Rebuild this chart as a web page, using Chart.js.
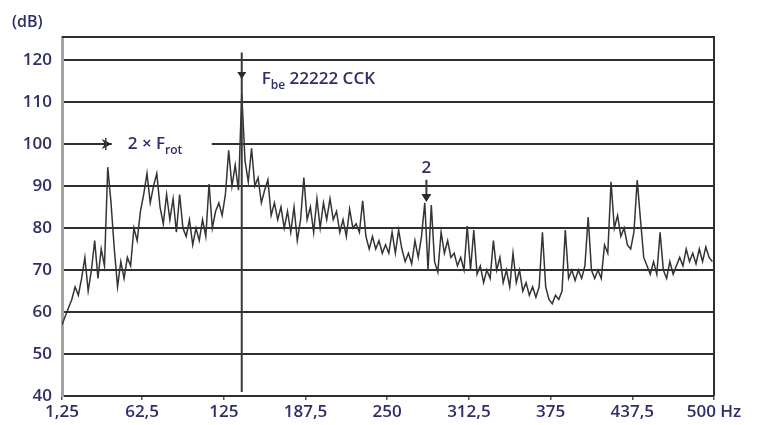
<!DOCTYPE html>
<html>
<head>
<meta charset="utf-8">
<script src="https://cdn.jsdelivr.net/npm/chart.js@4.4.0/dist/chart.umd.min.js"></script>
<style>
  html, body { margin: 0; padding: 0; background: #fff; }
  #wrap { width: 759px; height: 425px; }
</style>
</head>
<body>
<div id="wrap"><canvas id="spectrum"></canvas></div>
<script>
// spectrum lines, 2.5 Hz apart starting at 1.25 Hz
const firstBin = 1.25;
const binStep = 2.5;
const levels = [
  57, 59, 61, 63, 66, 64, 68, 73, 65, 70,
  77, 68, 75, 71, 94.5, 86, 75, 66, 72, 68,
  73, 71, 80, 77, 84, 88, 93, 86, 90, 93,
  85, 81, 88, 82, 87, 79, 88, 80, 78, 82,
  76, 80, 77, 82, 78, 90.5, 80, 84, 86, 83,
  88, 98.5, 90, 95, 89, 112, 96, 91, 99, 90,
  92, 86, 89, 91.5, 83, 86, 82, 85, 80, 84,
  79, 85, 77, 82, 92, 82, 85, 79, 87, 80,
  86, 82, 87, 82, 84, 79, 82, 78, 84.5, 80,
  81, 79, 86.5, 78, 75, 78, 75, 77, 74, 76,
  74, 79, 74, 79.5, 75, 72, 74, 71.5, 77, 73,
  78, 86, 70, 85.5, 72, 69.5, 79, 74, 77, 73,
  74, 71, 73, 70, 80.5, 70, 79.5, 69, 71, 67,
  70, 68, 77, 70, 73, 67, 70, 66, 74, 67,
  70, 65, 67, 64, 66, 63.5, 66, 79, 66, 63,
  62, 64, 63, 65, 79.5, 68, 70, 67.5, 70, 68,
  71, 82.6, 70, 68, 70, 68, 76, 74, 91, 80,
  83, 78, 80, 76, 75, 79, 91.4, 82, 73, 71,
  69, 72, 69, 79, 70, 68, 72, 69, 71, 73,
  71, 75, 72, 74, 71.5, 75, 72, 75.5, 73, 72
];

const xTicks = [1.25, 62.5, 125, 187.5, 250, 312.5, 375, 437.5, 500];
const yTicks = [40, 50, 60, 70, 80, 90, 100, 110, 120];

// marked components
const fbeFreq = 138.75;   // F_be peak
const frotFreq = 36.25;   // 2 x F_rot peak
const harmFreq = 280;     // second harmonic of F_be

const ink = '#2f2f2f';
const textColor = '#2e2e68';
const fontFamily = '"Open Sans", "DejaVu Sans", sans-serif';

const points = levels.map((v, i) => ({ x: firstBin + i * binStep, y: v }));

function arrowDown(ctx, x, tipY, w, h) {
  ctx.beginPath();
  ctx.moveTo(x - w / 2, tipY - h);
  ctx.lineTo(x + w / 2, tipY - h);
  ctx.lineTo(x, tipY);
  ctx.closePath();
  ctx.fill();
}

// text with a subscript part: [main, sub, rest]
function subText(ctx, x, base, main, sub, rest, size) {
  ctx.font = '600 ' + size + 'px ' + fontFamily;
  ctx.fillText(main, x, base);
  x += ctx.measureText(main).width;
  ctx.font = '600 ' + Math.round(size * 0.7) + 'px ' + fontFamily;
  ctx.fillText(sub, x, base + 5);
  x += ctx.measureText(sub).width;
  if (rest) {
    ctx.font = '600 ' + size + 'px ' + fontFamily;
    ctx.fillText(rest, x, base);
  }
}

const markup = {
  id: 'markup',
  beforeDraw(chart) {
    const ctx = chart.ctx;
    ctx.save();
    ctx.fillStyle = '#fff';
    ctx.fillRect(0, 0, chart.width, chart.height);
    ctx.restore();
  },
  beforeDatasetsDraw(chart) {
    // break in the 100 dB line where the 2 x F_rot label sits
    const { ctx, scales: { x, y } } = chart;
    const yy = y.getPixelForValue(100);
    ctx.save();
    ctx.fillStyle = '#fff';
    ctx.fillRect(x.getPixelForValue(frotFreq) + 4, yy - 3, 100, 6);
    ctx.restore();
  },
  afterDraw(chart) {
    const { ctx, chartArea: a, scales: { x, y } } = chart;
    ctx.save();

    // frame top and right
    ctx.strokeStyle = ink;
    ctx.lineWidth = 2;
    ctx.beginPath();
    ctx.moveTo(a.left, a.top);
    ctx.lineTo(a.right, a.top);
    ctx.lineTo(a.right, a.bottom);
    ctx.stroke();

    // F_be marker line
    const xf = x.getPixelForValue(fbeFreq);
    ctx.lineWidth = 2;
    ctx.strokeStyle = '#3a3a3a';
    ctx.beginPath();
    ctx.moveTo(xf, y.getPixelForValue(121.8));
    ctx.lineTo(xf, a.bottom - 4);
    ctx.stroke();
    ctx.fillStyle = '#2a2a2a';
    arrowDown(ctx, xf, y.getPixelForValue(115.5), 9, 7);

    // arrow onto the second harmonic
    const xh = x.getPixelForValue(harmFreq);
    ctx.beginPath();
    ctx.moveTo(xh, y.getPixelForValue(91.5));
    ctx.lineTo(xh, y.getPixelForValue(87));
    ctx.stroke();
    arrowDown(ctx, xh, y.getPixelForValue(86.2), 10, 8);

    // arrow head for 2 x F_rot on the 100 dB line
    const xr = x.getPixelForValue(frotFreq);
    const yr = y.getPixelForValue(100);
    ctx.beginPath();
    ctx.moveTo(xr + 4, yr);
    ctx.lineTo(xr - 6, yr - 5);
    ctx.lineTo(xr - 3, yr);
    ctx.lineTo(xr - 6, yr + 5);
    ctx.closePath();
    ctx.fill();
    ctx.lineWidth = 1.5;
    ctx.beginPath();
    ctx.moveTo(xr - 2, yr - 6);
    ctx.lineTo(xr - 2, yr + 6);
    ctx.stroke();

    // labels
    ctx.fillStyle = textColor;
    ctx.textBaseline = 'alphabetic';
    ctx.textAlign = 'left';
    ctx.font = '600 16px ' + fontFamily;
    ctx.fillText('(dB)', 12, 27);

    subText(ctx, xf + 20, 84, 'F', 'be', ' 22222 CCK', 17);
    subText(ctx, xr + 20, 149, '2 \u00d7 F', 'rot', '', 17);

    ctx.textAlign = 'center';
    ctx.font = '600 17px ' + fontFamily;
    ctx.fillText('2', xh, 173);

    ctx.restore();
  }
};

new Chart(document.getElementById('spectrum'), {
  type: 'line',
  data: {
    datasets: [{
      data: points,
      borderColor: '#343434',
      borderWidth: 1.5,
      pointRadius: 0,
      tension: 0,
      fill: false
    }]
  },
  options: {
    responsive: true,
    maintainAspectRatio: false,
    animation: false,
    layout: { padding: { top: 37, right: 45, left: 0, bottom: 0 } },
    plugins: { legend: { display: false }, tooltip: { enabled: false } },
    scales: {
      x: {
        type: 'linear',
        min: 1.25,
        max: 500,
        afterBuildTicks: s => { s.ticks = xTicks.map(v => ({ value: v })); },
        afterFit: s => { s.height = 29; },
        grid: { drawOnChartArea: false, drawTicks: true, tickLength: 4, color: '#555', lineWidth: 1.5 },
        border: { display: false },
        ticks: {
          color: textColor,
          padding: 2,
          maxRotation: 0,
          autoSkip: false,
          font: { family: fontFamily, size: 17, weight: '600' },
          callback: v => v === 500 ? '500 Hz' : String(v).replace('.', ',')
        }
      },
      y: {
        min: 40,
        max: 125.5,
        afterBuildTicks: s => { s.ticks = yTicks.map(v => ({ value: v })); },
        afterFit: s => { s.width = 62; },
        grid: { color: ink, lineWidth: 2, drawTicks: false },
        border: { color: '#a3a3a3', width: 3 },
        ticks: {
          color: textColor,
          padding: 10,
          font: { family: fontFamily, size: 17, weight: '600' }
        }
      }
    }
  },
  plugins: [markup]
});
</script>
</body>
</html>
